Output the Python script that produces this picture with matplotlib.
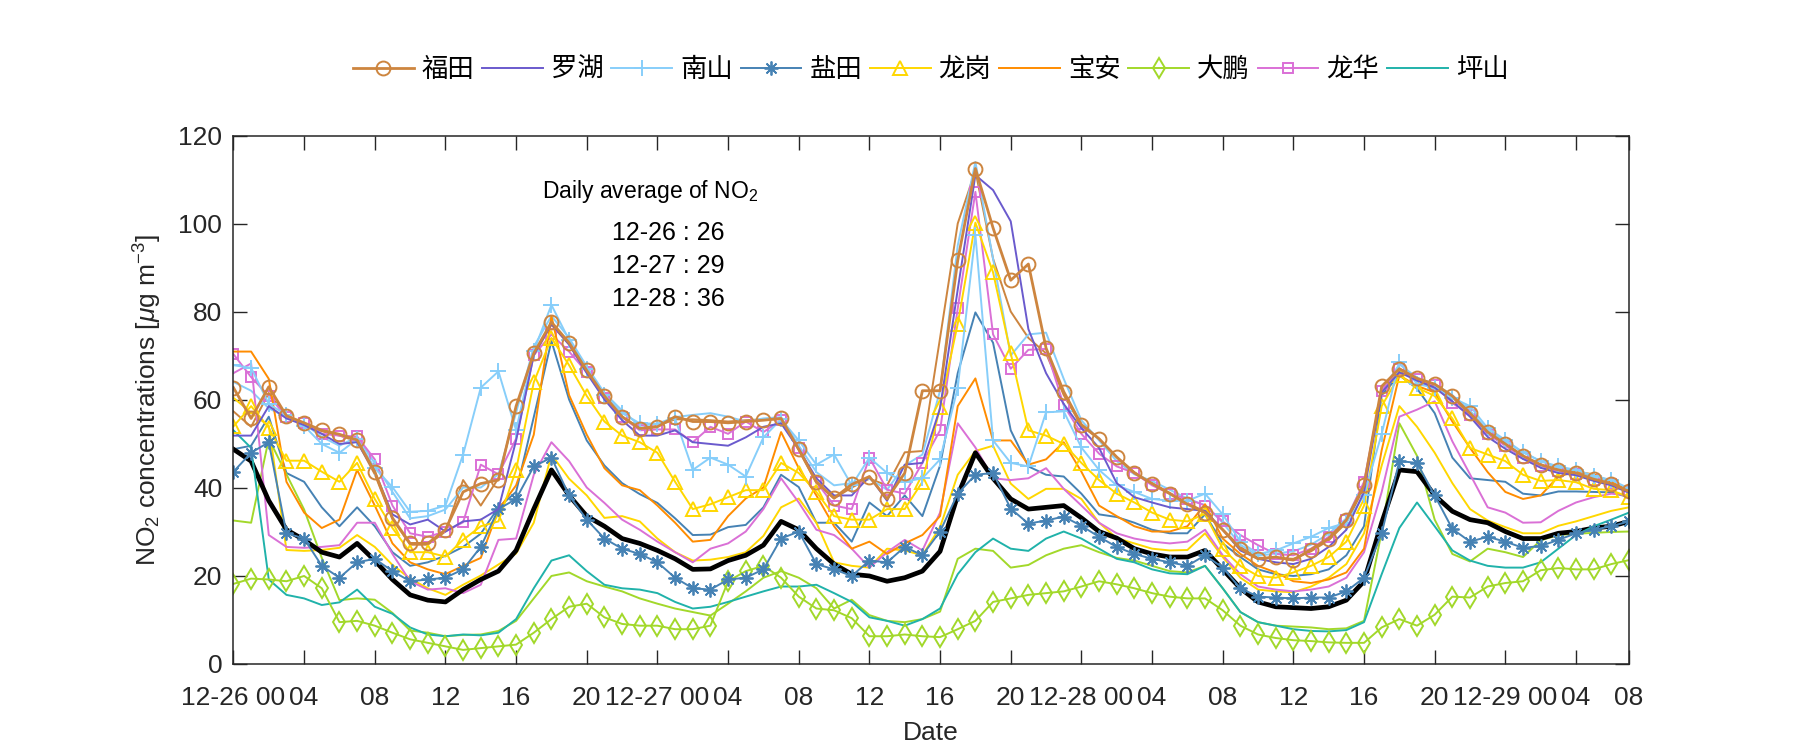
import numpy as np
import matplotlib
matplotlib.use('Agg')
import matplotlib.pyplot as plt

plt.rcParams['font.family'] = ['Liberation Sans', 'Noto Sans CJK SC']
plt.rcParams['mathtext.fontset'] = 'custom'
plt.rcParams['mathtext.rm'] = 'Liberation Sans'
plt.rcParams['mathtext.it'] = 'Liberation Sans:italic'

# ----------------- datos horarios (12-26 00 -> 12-29 07) -----------------
hours = np.arange(80)

futian = [62.7, 55.7, 62.9, 56.3, 54.7, 53.0, 52.1, 50.8, 43.6, 33.1, 27.3,
          27.3, 30.4, 39.0, 40.9, 41.7, 58.5, 70.5, 77.6, 72.9, 66.6,
          60.8, 56.1, 53.4, 53.8, 56.1, 55.0, 55.0, 54.7, 55.0, 55.3,
          55.7, 48.7, 41.3, 37.6, 40.7, 42.5, 37.4, 43.3, 62.0, 62.0,
          91.6, 112.5, 99.0, 87.1, 90.8, 71.7, 61.8, 54.3, 51.1, 46.9,
          43.3, 40.9, 38.6, 36.2, 34.3, 30.4, 26.1, 23.8, 24.2, 23.5,
          25.9, 28.4, 32.6, 40.5, 63.0, 67.0, 64.8, 63.5, 60.8, 56.9,
          52.6, 49.9, 47.2, 45.2, 44.0, 43.3, 41.9, 40.9, 39.1]
luohu = [51.8, 51.8, 58.5, 55.7, 54.2, 52.2, 49.9, 50.3, 43.6, 33.9, 31.6,
         32.7, 30.0, 32.3, 32.7, 35.1, 50.7, 70.1, 77.2, 72.5, 66.0,
         60.0, 55.3, 51.8, 51.8, 53.0, 50.3, 49.9, 49.5, 51.4, 53.8,
         54.6, 48.7, 42.1, 38.2, 38.2, 42.5, 37.0, 45.2, 45.6, 58.0,
         85.0, 111.0, 107.6, 100.5, 76.0, 66.0, 59.0, 53.5, 49.0, 41.0,
         37.8, 36.6, 35.5, 35.1, 34.7, 30.4, 25.7, 23.8, 23.0, 22.6,
         23.8, 26.5, 30.4, 39.0, 61.6, 66.2, 64.3, 62.7, 59.6, 56.1,
         51.5, 48.8, 46.5, 44.5, 43.3, 42.8, 41.5, 40.5, 38.8]
nanshan = [67.8, 67.2, 59.0, 56.5, 54.0, 49.9, 47.9, 51.0, 44.4, 40.1, 34.5,
           34.7, 35.9, 47.5, 62.7, 66.4, 53.0, 71.0, 81.5, 73.5, 67.0,
           61.0, 56.9, 54.6, 54.5, 55.7, 44.0, 46.8, 45.2, 42.5, 51.4,
           55.5, 50.7, 45.2, 47.5, 40.5, 46.8, 43.3, 41.3, 42.1, 46.4,
           62.7, 97.5, 50.7, 45.6, 44.8, 57.1, 57.3, 49.1, 44.0, 40.5,
           39.0, 37.4, 37.0, 37.0, 38.6, 33.9, 27.7, 24.9, 25.7, 27.3,
           28.8, 30.8, 32.0, 38.2, 52.2, 68.6, 63.5, 62.7, 60.4, 58.5,
           53.5, 50.8, 48.0, 46.0, 44.8, 44.0, 42.7, 41.7, 39.8]
yantian = [43.6, 47.9, 50.3, 29.6, 28.4, 22.2, 19.5, 23.0, 23.8, 21.0, 18.7,
           19.1, 19.5, 21.4, 26.5, 35.1, 37.4, 44.8, 46.8, 38.2, 32.7,
           28.4, 26.1, 24.9, 23.0, 19.5, 17.1, 16.8, 19.1, 19.5, 21.4,
           28.4, 30.0, 22.6, 21.4, 19.9, 23.4, 23.0, 26.5, 24.6, 30.0,
           38.6, 42.9, 43.3, 35.2, 31.8, 32.5, 33.4, 31.3, 28.8, 26.5,
           24.9, 23.8, 23.0, 22.2, 24.6, 21.8, 17.1, 15.2, 15.0, 14.8,
           15.0, 15.0, 16.4, 19.5, 29.6, 46.0, 45.6, 38.2, 30.6, 27.7,
           28.8, 27.7, 26.3, 26.7, 28.1, 29.6, 30.4, 31.2, 32.3]
longgang = [53.9, 58.5, 53.6, 46.1, 46.1, 43.6, 41.3, 45.6, 37.4, 30.8, 25.3,
            25.3, 24.3, 28.1, 31.2, 32.3, 44.0, 63.9, 74.0, 67.8, 60.8,
            55.0, 51.8, 50.3, 47.9, 41.3, 35.1, 36.2, 37.8, 39.4, 39.4,
            45.6, 43.3, 39.0, 33.5, 32.7, 32.7, 35.1, 35.1, 41.3, 58.3,
            77.2, 100.2, 88.9, 70.5, 53.0, 51.8, 49.9, 45.6, 41.7, 38.6,
            36.6, 34.3, 32.7, 32.3, 34.0, 26.1, 22.2, 19.9, 19.5, 20.7,
            22.2, 24.2, 27.7, 35.9, 58.5, 65.5, 62.7, 60.8, 55.7, 49.0,
            47.5, 46.0, 42.9, 41.5, 41.7, 41.2, 39.7, 39.4, 37.8]
baoan = [70.9, 70.9, 64.7, 41.3, 34.3, 30.8, 32.7, 44.0, 35.9, 27.3, 23.0,
         21.4, 20.3, 22.2, 24.0, 35.0, 40.5, 52.0, 79.0, 61.0, 52.0,
         44.4, 40.5, 39.4, 35.9, 32.0, 27.7, 28.1, 33.5, 37.5, 40.0,
         52.6, 44.4, 38.2, 31.2, 26.1, 27.7, 24.9, 27.3, 29.2, 33.5,
         58.5, 64.8, 50.7, 50.7, 45.2, 46.4, 50.3, 43.6, 35.9, 33.5,
         31.2, 30.0, 30.0, 31.2, 36.2, 28.4, 24.9, 22.2, 20.7, 18.7,
         18.3, 19.1, 20.7, 26.1, 48.5, 65.5, 63.1, 61.6, 55.0, 49.0,
         43.5, 39.0, 37.4, 38.2, 42.5, 43.6, 43.0, 41.3, 39.2]
dapeng = [18.1, 19.3, 19.1, 18.7, 19.9, 17.1, 9.4, 9.7, 8.6, 7.0, 5.5,
          4.7, 3.9, 3.1, 3.5, 3.9, 4.3, 7.0, 10.1, 12.9, 13.6,
          10.5, 9.0, 8.6, 8.6, 7.8, 7.8, 8.6, 18.7, 21.0, 22.2,
          19.5, 15.2, 12.5, 12.1, 10.3, 6.2, 6.2, 6.6, 6.2, 6.0,
          7.8, 9.7, 14.0, 14.8, 15.6, 16.0, 16.4, 17.5, 18.7, 18.0,
          17.1, 16.0, 15.2, 14.8, 14.8, 12.1, 8.6, 6.6, 5.8, 5.3,
          5.1, 4.8, 4.7, 4.7, 8.2, 10.1, 8.6, 11.1, 15.2, 15.0,
          17.5, 18.3, 18.7, 21.2, 21.7, 21.4, 21.4, 22.6, 23.5]
longhua = [70.3, 65.1, 60.8, 56.1, 54.6, 52.2, 51.8, 51.6, 46.4, 35.9, 29.6,
           28.8, 30.0, 32.1, 45.2, 43.0, 51.1, 70.1, 74.8, 70.9, 66.2,
           60.4, 56.0, 53.0, 53.2, 53.2, 50.3, 53.8, 52.2, 55.0, 52.6,
           55.3, 49.0, 41.3, 35.9, 35.1, 46.8, 39.5, 38.6, 45.6, 53.0,
           80.7, 107.2, 74.8, 67.0, 71.3, 71.5, 58.7, 52.2, 47.7, 44.8,
           43.3, 40.5, 38.6, 37.4, 35.9, 32.3, 29.2, 26.9, 24.9, 24.6,
           26.1, 28.8, 32.7, 41.3, 62.0, 67.0, 64.7, 63.3, 59.2, 56.5,
           52.2, 49.5, 46.8, 45.0, 43.8, 43.0, 41.7, 40.8, 39.2]
pingshan = [53.0, 49.0, 19.1, 15.6, 14.8, 13.3, 13.9, 16.8, 12.9, 11.3, 8.2,
            6.6, 6.2, 6.6, 6.4, 7.0, 10.1, 17.1, 23.4, 24.6, 21.0,
            17.9, 17.1, 16.8, 16.0, 14.0, 12.5, 12.9, 14.0, 15.2, 16.4,
            17.5, 17.5, 17.9, 16.0, 14.0, 10.5, 9.7, 8.6, 10.1, 12.5,
            20.3, 25.3, 28.4, 26.1, 25.6, 28.4, 30.0, 28.4, 26.1, 23.8,
            23.0, 21.4, 20.5, 20.3, 22.2, 17.1, 11.7, 9.4, 8.6, 7.8,
            7.4, 7.3, 7.6, 9.4, 20.3, 30.8, 36.6, 31.2, 25.7, 23.4,
            22.2, 21.8, 21.8, 23.0, 26.1, 29.2, 31.2, 32.7, 34.3]

# segunda serie (sin marcadores, sin leyenda)
futian_b = [57.3, 53.8, 61.5, 56.0, 54.5, 52.8, 51.8, 50.5, 43.0, 32.8, 27.0,
            27.0, 30.0, 41.7, 35.9, 42.1, 58.0, 70.0, 77.0, 72.5, 66.2,
            60.5, 56.0, 53.5, 54.0, 55.5, 55.5, 55.3, 55.0, 55.3, 55.5,
            55.5, 48.5, 41.0, 37.5, 40.0, 42.0, 40.5, 48.0, 48.3, 74.0,
            100.0, 112.0, 92.0, 80.0, 74.0, 70.5, 61.0, 54.0, 51.0, 47.0,
            43.5, 41.0, 38.8, 36.5, 34.5, 30.5, 26.5, 24.0, 24.0, 23.8,
            25.5, 28.0, 32.0, 40.0, 62.5, 66.5, 64.5, 63.0, 60.5, 56.5,
            52.3, 49.6, 47.0, 45.0, 43.8, 43.0, 41.7, 40.7, 39.0]
nanshan_b = [64.0, 62.0, 58.0, 56.0, 54.5, 51.5, 49.5, 51.5, 45.5, 39.0, 33.0,
             33.5, 35.0, 40.0, 40.0, 43.0, 57.0, 72.0, 79.0, 74.0, 67.5,
             61.5, 57.5, 54.0, 54.5, 56.0, 56.5, 56.9, 56.1, 55.0, 55.7,
             56.0, 49.5, 43.5, 40.5, 41.0, 42.0, 39.5, 45.0, 47.5, 62.0,
             95.0, 114.0, 92.0, 70.0, 74.8, 75.2, 64.7, 55.3, 50.7, 46.0,
             43.0, 41.5, 39.5, 37.5, 36.0, 32.0, 27.0, 24.5, 25.0, 25.5,
             27.0, 29.5, 33.0, 41.0, 62.0, 68.0, 65.0, 63.5, 61.0, 57.5,
             53.0, 50.5, 48.0, 46.0, 44.5, 43.8, 42.3, 41.3, 39.5]
yantian_b = [48.7, 49.5, 56.1, 43.3, 41.3, 35.5, 31.2, 35.5, 31.2, 25.3, 22.2,
             23.0, 24.5, 26.5, 29.5, 35.5, 39.0, 56.0, 73.3, 60.0, 50.7,
             45.0, 41.0, 38.5, 36.5, 33.0, 29.2, 29.3, 31.0, 31.5, 35.5,
             42.9, 40.1, 32.0, 32.0, 27.7, 36.6, 33.5, 38.2, 33.5, 45.0,
             66.0, 79.8, 72.9, 53.0, 44.8, 42.9, 42.5, 38.6, 33.9, 33.3,
             32.0, 30.4, 29.6, 29.6, 33.9, 27.3, 24.2, 21.4, 20.3, 19.9,
             20.3, 21.4, 24.6, 31.2, 61.0, 65.5, 62.5, 56.9, 46.8, 42.1,
             41.7, 41.3, 38.6, 38.2, 39.1, 39.1, 39.0, 38.9, 37.8]
longgang_b = [60.4, 57.0, 54.0, 25.8, 25.6, 25.8, 26.3, 29.2, 26.5, 22.4, 19.3,
              17.1, 15.6, 17.9, 20.0, 22.5, 25.0, 32.0, 47.5, 42.0, 38.2,
              33.1, 33.5, 32.3, 28.4, 25.3, 23.4, 23.6, 24.2, 25.3, 29.0,
              35.5, 37.5, 32.0, 23.0, 22.2, 21.8, 26.1, 25.7, 24.6, 31.0,
              42.9, 48.3, 49.5, 40.9, 37.4, 39.7, 39.7, 37.4, 32.0, 28.5,
              27.3, 26.1, 25.7, 25.8, 29.6, 24.2, 19.5, 16.8, 16.4, 16.2,
              17.5, 19.5, 22.6, 29.6, 45.0, 58.5, 53.8, 47.9, 41.0, 35.1,
              32.5, 31.0, 29.6, 29.6, 31.3, 32.3, 33.5, 34.7, 35.5]
dapeng_b = [32.5, 32.0, 51.1, 43.0, 35.0, 24.0, 14.4, 14.8, 14.5, 11.5, 7.5,
            7.0, 6.2, 6.5, 6.6, 7.4, 9.7, 14.8, 19.9, 20.7, 18.7,
            17.5, 16.4, 14.8, 13.6, 12.5, 11.7, 10.9, 13.6, 16.4, 19.5,
            21.0, 19.5, 17.1, 12.5, 14.5, 11.0, 9.7, 9.4, 10.1, 11.8,
            23.8, 26.1, 25.6, 21.8, 22.4, 24.6, 26.1, 26.9, 25.3, 24.0,
            23.4, 22.2, 21.0, 20.7, 22.2, 17.1, 11.7, 9.4, 8.6, 8.4,
            8.2, 7.8, 8.0, 9.7, 30.0, 54.6, 47.2, 32.7, 24.9, 23.2,
            26.1, 25.3, 24.2, 28.0, 29.2, 29.5, 29.7, 29.9, 30.0]
longhua_b = [66.0, 68.2, 29.2, 26.5, 26.3, 26.5, 26.9, 32.0, 32.0, 24.9, 18.7,
             16.8, 17.1, 16.0, 17.9, 28.1, 28.4, 42.9, 50.3, 46.0, 40.0,
             36.5, 32.7, 30.4, 27.7, 25.3, 23.0, 26.1, 27.3, 30.0, 35.1,
             42.1, 36.6, 30.4, 29.2, 26.1, 21.8, 25.3, 28.1, 25.7, 34.3,
             54.6, 49.1, 42.1, 41.7, 42.1, 44.4, 39.7, 35.9, 32.0, 29.6,
             28.4, 27.7, 27.3, 27.7, 30.4, 24.6, 20.3, 17.5, 16.8, 16.4,
             16.8, 17.5, 19.5, 25.3, 39.0, 56.1, 57.7, 59.6, 50.5, 43.0,
             35.5, 34.3, 32.0, 32.1, 34.7, 36.6, 37.8, 38.6, 38.2]

# promedio de todas las estaciones
average = [48.7, 46.0, 37.0, 30.4, 28.1, 25.3, 24.2, 27.3, 23.4, 19.1, 15.6,
           14.4, 14.0, 16.8, 19.1, 21.0, 25.7, 35.1, 44.0, 38.2, 33.5,
           31.2, 28.4, 27.3, 25.7, 23.8, 21.4, 21.5, 23.4, 24.6, 26.9,
           32.3, 30.4, 26.1, 22.6, 20.3, 19.9, 18.7, 19.5, 21.0, 25.5,
           38.2, 47.9, 42.1, 37.4, 35.1, 35.5, 35.9, 33.1, 30.0, 28.5,
           26.1, 24.9, 24.2, 24.2, 25.7, 21.4, 17.1, 14.0, 12.9, 12.7,
           12.5, 12.9, 14.4, 18.7, 32.0, 44.0, 43.6, 38.2, 34.6, 32.7,
           32.0, 30.0, 28.4, 28.4, 29.6, 30.0, 30.8, 31.2, 32.3]

tick_pos = list(range(0, 77, 4)) + [79]
tick_labels = ['12-26 00', '04', '08', '12', '16', '20',
               '12-27 00', '04', '08', '12', '16', '20',
               '12-28 00', '04', '08', '12', '16', '20',
               '12-29 00', '04', '08']

daily_days = ['12-26', '12-27', '12-28']
daily_means = [26, 29, 36]

# ----------------- colores -----------------
c_futian = '#CD853F'
c_luohu = '#6A5ACD'
c_nanshan = '#87CEFA'
c_yantian = '#4682B4'
c_longgang = '#FFD700'
c_baoan = '#FF8C00'
c_dapeng = '#A2D82A'
c_longhua = '#DA70D6'
c_pingshan = '#20B2AA'
axis_col = '#262626'

fig = plt.figure(figsize=(18, 7.5), dpi=100)
ax = fig.add_axes([0.1297, 0.1153, 0.7753, 0.704])

lw = 1.4
# segunda serie primero (queda debajo)
ax.plot(hours, futian_b, color=c_futian, lw=lw)
ax.plot(hours, nanshan_b, color=c_nanshan, lw=lw)
ax.plot(hours, yantian_b, color=c_yantian, lw=lw)
ax.plot(hours, longgang_b, color=c_longgang, lw=lw)
ax.plot(hours, dapeng_b, color=c_dapeng, lw=lw)
ax.plot(hours, longhua_b, color=c_longhua, lw=lw)

ax.plot(hours, average, color='black', lw=3.4)

ms = 10
mew = 1.4
h_ps, = ax.plot(hours, pingshan, color=c_pingshan, lw=lw, label='坪山')
h_lh, = ax.plot(hours, longhua, color=c_longhua, lw=lw, marker='s', ms=7,
                mfc='none', mew=mew, label='龙华')
h_dp, = ax.plot(hours, dapeng, color=c_dapeng, lw=lw, marker='d', ms=ms,
                mfc='none', mew=mew, label='大鹏')
h_ba, = ax.plot(hours, baoan, color=c_baoan, lw=lw, label='宝安')
h_lg, = ax.plot(hours, longgang, color=c_longgang, lw=lw, marker='^', ms=ms,
                mfc='none', mew=mew, label='龙岗')
h_yt, = ax.plot(hours, yantian, color=c_yantian, lw=lw, marker=(8, 2, 0),
                ms=ms, mew=1.3, label='盐田')
h_ns, = ax.plot(hours, nanshan, color=c_nanshan, lw=lw, marker='+', ms=ms + 1,
                mew=mew, label='南山')
h_lu, = ax.plot(hours, luohu, color=c_luohu, lw=lw, label='罗湖')
h_ft, = ax.plot(hours, futian, color=c_futian, lw=2.0, marker='o', ms=ms,
                mfc='none', mew=mew, label='福田')

# ----------------- ejes -----------------
ax.set_xlim(0, 79)
ax.set_ylim(0, 120)
ax.set_xticks(tick_pos)
ax.set_xticklabels(tick_labels)
ax.set_yticks(np.arange(0, 121, 20))
ax.tick_params(direction='in', length=10, width=1.0, top=True, right=True,
               labelsize=19, colors=axis_col)
ax.tick_params(axis='x', pad=16)
ax.tick_params(axis='y', pad=8)
for s in ax.spines.values():
    s.set_color(axis_col)
    s.set_linewidth(1.1)

ax.set_xlabel('Date', fontsize=19, color=axis_col, labelpad=8)
ax.set_ylabel('NO$_2$ concentrations [$\\mu$g m$^{-3}$]', fontsize=19,
              color=axis_col, labelpad=10)

# texto de promedios diarios
ax.text(23.6, 107.2, 'Daily average of NO$_2$', ha='center', va='center',
        fontsize=16.5, color='black')
for i in range(len(daily_days)):
    ax.text(24.6, 97.9 - i * 7.5, f'{daily_days[i]} : {daily_means[i]}',
            ha='center', va='center', fontsize=18, color='black')

fig.legend(handles=[h_ft, h_lu, h_ns, h_yt, h_lg, h_ba, h_dp, h_lh, h_ps],
           loc='center', bbox_to_anchor=(0.517, 0.907), ncol=9, frameon=False,
           fontsize=19, handlelength=2.3, handletextpad=0.3, columnspacing=0.3)

fig.savefig('out.png', dpi=100)
